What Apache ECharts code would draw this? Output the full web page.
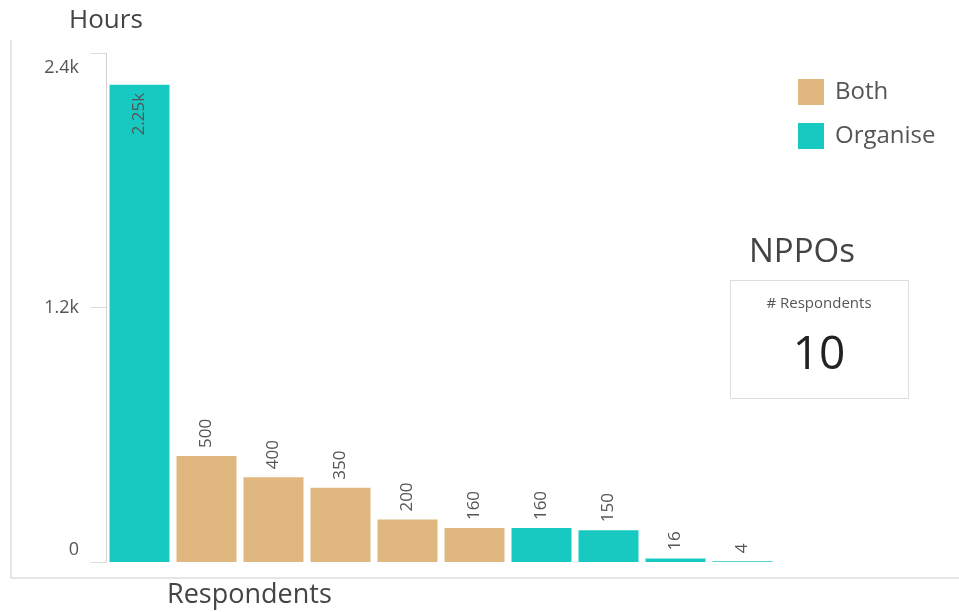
<!DOCTYPE html>
<html><head><meta charset="utf-8">
<script src="https://cdn.jsdelivr.net/npm/echarts@6/dist/echarts.min.js"></script>
<style>html,body{margin:0;padding:0;background:#fff}#c{width:959px;height:612px}</style>
</head><body><div id="c"></div>
<script>
const categories = ['R1','R2','R3','R4','R5','R6','R7','R8','R9','R10'];
const bothValues = [null, 500, 400, 350, 200, 160, null, null, null, null];
const organiseValues = [2250, null, null, null, null, null, 160, 150, 16, 4];
const yTicks = [0, 1200, 2400];
const seriesNames = ['Both', 'Organise'];
const kpiTitle = 'NPPOs';
const kpiLabel = '# Respondents';
const kpiValue = 10;

const FONT = '"Open Sans", Lato, sans-serif';
const fmt = v => v >= 1000 ? (Math.round(v / 10) / 100) + 'k' : String(v);
function labelCfg(v) {
  const base = {show:true, rotate:90, color:'#555', fontSize:17, fontFamily:FONT, verticalAlign:'middle', formatter: p => fmt(p.value)};
  if (v >= 1000) return Object.assign(base, {position:'insideTop', distance:8, align:'right'});
  return Object.assign(base, {position:'top', distance:8, align:'left'});
}
const mk = arr => arr.map(v => v == null ? '-' : {value:v, label: labelCfg(v)});
const yMin = yTicks[0], yMax = yTicks[yTicks.length-1];

const chart = echarts.init(document.getElementById('c'), null, {renderer:'canvas'});
chart.setOption({
  animation:false,
  grid:{left:106, right:183, top:53, bottom:50, containLabel:false},
  legend:{orient:'vertical', left:793, top:74, itemWidth:26, itemHeight:26, itemGap:18, icon:'rect',
    textStyle:{fontSize:24, color:'#555', fontFamily:FONT, padding:[0,0,0,6]}, data:seriesNames},
  xAxis:{type:'category', data:categories, axisLabel:{show:false}, axisTick:{show:false}, axisLine:{show:false}},
  yAxis:{type:'value', min:yMin, max:yMax, interval:yTicks[1]-yTicks[0],
    splitLine:{show:false},
    axisLine:{show:true, lineStyle:{color:'#d9cfcf', width:1}},
    axisTick:{show:true, inside:false, length:15, lineStyle:{color:'#ddd'}},
    axisLabel:{color:'#555', fontSize:18, fontFamily:FONT, margin:27, showMinLabel:true, showMaxLabel:true,
      formatter: v => v === yMax ? '{top|' + fmt(v) + '}' : (v === yMin ? '{bot|' + fmt(v) + '}' : fmt(v)),
      rich:{top:{padding:[30,0,0,0], fontSize:18, color:'#555', fontFamily:FONT},
            bot:{padding:[0,0,24,0], fontSize:18, color:'#555', fontFamily:FONT}}}},
  series:[
    {name:seriesNames[0], type:'bar', stack:'s', barWidth:60, data:mk(bothValues), itemStyle:{color:'#dfb77f'}},
    {name:seriesNames[1], type:'bar', stack:'s', barWidth:60, data:mk(organiseValues), itemStyle:{color:'#17c9c1'}}
  ],
  graphic:[
    {type:'line', shape:{x1:11, y1:40, x2:11, y2:578}, style:{stroke:'#ccc', lineWidth:1}},
    {type:'line', shape:{x1:11, y1:578, x2:959, y2:578}, style:{stroke:'#ccc', lineWidth:1}},
    {type:'text', left:69, top:8, style:{text:'Hours', fontSize:26, fill:'#444', fontFamily:FONT}},
    {type:'text', left:167, top:582, style:{text:'Respondents', fontSize:27, fill:'#444', fontFamily:FONT}},
    {type:'text', left:749, top:236, style:{text:kpiTitle, fontSize:33, fill:'#444', fontFamily:FONT}},
    {type:'rect', shape:{x:730.5, y:280.5, width:178, height:118}, style:{fill:'#fff', stroke:'#ddd', lineWidth:1}},
    {type:'text', x:819, y:304, style:{text:kpiLabel, fontSize:15, fill:'#555', fontFamily:FONT, align:'center', verticalAlign:'middle'}},
    {type:'text', x:819, y:356, style:{text:String(kpiValue), fontSize:46, fill:'#222', fontFamily:FONT, align:'center', verticalAlign:'middle'}}
  ]
});
</script></body></html>
